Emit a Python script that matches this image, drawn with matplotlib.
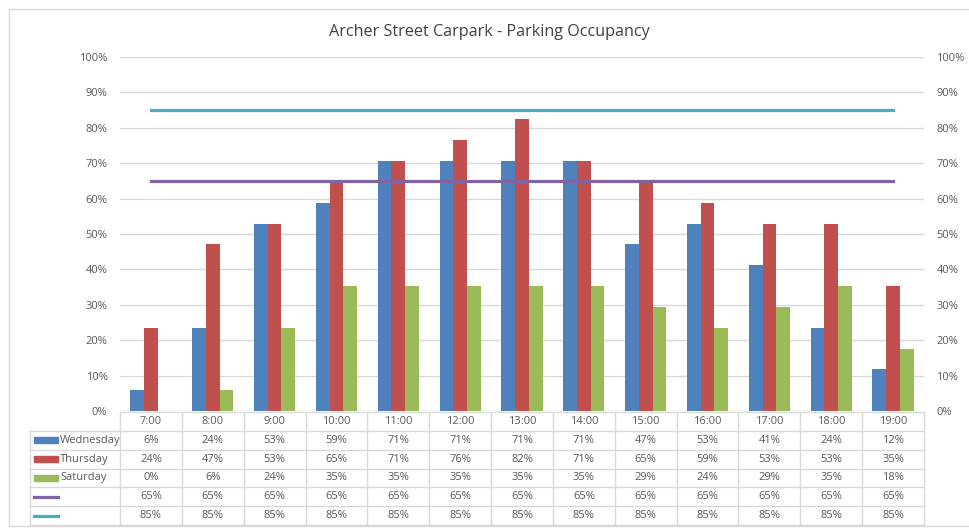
import numpy as np
import matplotlib.pyplot as plt
from matplotlib.patches import Rectangle

plt.rcParams['font.family'] = ['Open Sans', 'DejaVu Sans']

# Data (percent occupancy)
times = ["7:00", "8:00", "9:00", "10:00", "11:00", "12:00", "13:00",
         "14:00", "15:00", "16:00", "17:00", "18:00", "19:00"]
wednesday = [5.9, 23.5, 52.9, 58.8, 70.6, 70.6, 70.6, 70.6, 47.1, 52.9, 41.2, 23.5, 11.8]
thursday = [23.5, 47.1, 52.9, 64.7, 70.6, 76.5, 82.4, 70.6, 64.7, 58.8, 52.9, 52.9, 35.3]
saturday = [0.0, 5.9, 23.5, 35.3, 35.3, 35.3, 35.3, 35.3, 29.4, 23.5, 29.4, 35.3, 17.6]
target_65 = [65] * 13
target_85 = [85] * 13

series_names = ["Wednesday", "Thursday", "Saturday"]
c_wed, c_thu, c_sat = "#4F81BD", "#C0504D", "#9BBB59"
c_purple, c_cyan = "#8064A2", "#4BACC6"
grid_c = "#D9D9D9"
txt_c = "#595959"

W, H = 969, 528
fig = plt.figure(figsize=(W / 100, H / 100), dpi=100)

# outer chart border
fig.add_artist(Rectangle((9 / W, 2 / H), 1.2, 1 - 11 / H, transform=fig.transFigure,
                         fill=False, edgecolor=grid_c, linewidth=1))

ax = fig.add_axes([120 / W, 1 - 411 / H, (924 - 120) / W, (411 - 57) / H])
x = np.arange(len(times))
bw = 0.222
ax.bar(x - bw, wednesday, bw, color=c_wed, zorder=3)
ax.bar(x, thursday, bw, color=c_thu, zorder=3)
ax.bar(x + bw, saturday, bw, color=c_sat, zorder=3)
ax.plot(x, target_65, color=c_purple, linewidth=2.3, zorder=4)
ax.plot(x, target_85, color=c_cyan, linewidth=2.3, zorder=4)

ax.set_xlim(-0.5, len(times) - 0.5)
ax.set_ylim(0, 100)
ax.set_yticks(np.arange(0, 101, 10))
ax.set_yticklabels([f"{v}%" for v in range(0, 101, 10)])
ax.set_xticks([])
ax.grid(axis='y', color=grid_c, linewidth=1, zorder=0)
for s in ax.spines.values():
    s.set_visible(False)
ax.tick_params(axis='y', length=0, labelsize=8, labelcolor=txt_c, pad=9,
               labelright=True, right=False)
fig.text(489 / W, 1 - 32 / H, "Archer Street Carpark - Parking Occupancy",
         ha='center', va='center', fontsize=11.6, color="#404040")

# data table
tx = fig.add_axes([30 / W, 1 - 525 / H, (924 - 30) / W, (525 - 412) / H])
left = -0.5 - 90 / 61.85
tx.set_xlim(left, len(times) - 0.5)
tx.set_ylim(6, 0)
tx.axis('off')

lc = dict(color=grid_c, linewidth=1, clip_on=False)
# horizontal lines
tx.plot([-0.5, len(times) - 0.5], [0, 0], **lc)
for r in range(1, 7):
    tx.plot([left, len(times) - 0.5], [r, r], **lc)
# vertical lines
tx.plot([left, left], [1, 6], **lc)
for i in range(len(times) + 1):
    tx.plot([i - 0.5, i - 0.5], [0, 6], **lc)

rows = [wednesday, thursday, saturday, target_65, target_85]
for i, t in enumerate(times):
    tx.text(i, 0.5, t, ha='center', va='center', fontsize=8, color=txt_c)
    for r, vals in enumerate(rows):
        tx.text(i, r + 1.5, f"{vals[i]:.0f}%", ha='center', va='center',
                fontsize=8, color=txt_c)

sw = 24 / 61.85
x0 = left + 4 / 61.85
for r, (name, col) in enumerate(zip(series_names, [c_wed, c_thu, c_sat])):
    tx.add_patch(Rectangle((x0, r + 1.5 - 0.16), sw, 0.32, color=col, clip_on=False))
    tx.text(x0 + sw + 2 / 61.85, r + 1.5, name, ha='left', va='center',
            fontsize=8, color=txt_c)
for r, col in zip([3, 4], [c_purple, c_cyan]):
    tx.plot([x0, x0 + sw], [r + 1.5, r + 1.5], color=col, linewidth=2.3,
            clip_on=False)

fig.savefig("out.png", dpi=100)
